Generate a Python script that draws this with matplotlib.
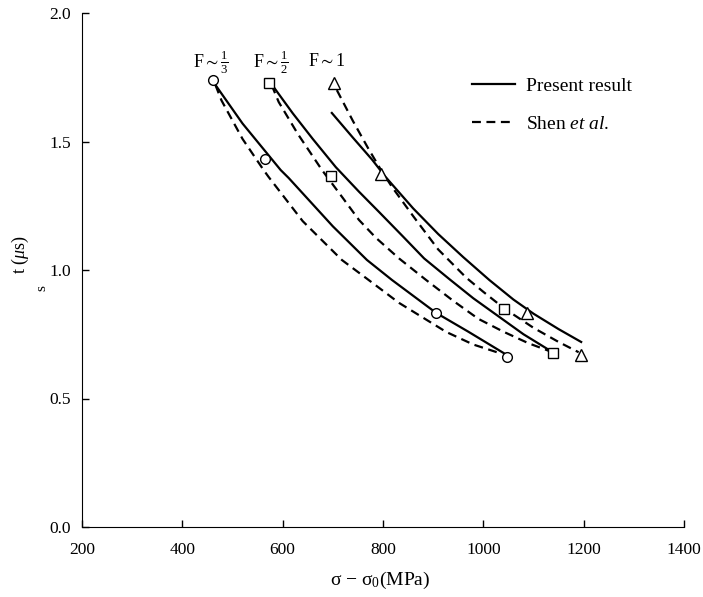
import matplotlib
matplotlib.use("Agg")
import matplotlib.pyplot as plt

plt.rcParams['font.family'] = ['Liberation Serif', 'DejaVu Serif']
plt.rcParams['mathtext.fontset'] = 'custom'
plt.rcParams['mathtext.rm'] = 'Liberation Serif'
plt.rcParams['mathtext.it'] = 'Liberation Serif:italic'
plt.rcParams['mathtext.default'] = 'regular'

# present result (solid) curves
p13_x = [466, 520, 596, 612, 700, 768, 818, 906, 970, 1042]
p13_y = [1.72, 1.57, 1.389, 1.358, 1.17, 1.039, 0.961, 0.833, 0.76, 0.675]
p12_x = [582, 620, 660, 706, 752, 792, 840, 882, 932, 980, 1030, 1080, 1130]
p12_y = [1.712, 1.61, 1.51, 1.40, 1.305, 1.226, 1.13, 1.045, 0.965, 0.89, 0.82, 0.75, 0.69]
p1_x = [698, 740, 778, 806, 860, 910, 960, 1012, 1060, 1100, 1150, 1195]
p1_y = [1.611, 1.515, 1.43, 1.36, 1.24, 1.14, 1.05, 0.961, 0.885, 0.83, 0.77, 0.72]

# Shen et al. (dashed) curves
s13_x = [466, 478, 520, 562, 572, 640, 718, 766, 832, 926, 980, 1035]
s13_y = [1.72, 1.66, 1.51, 1.389, 1.362, 1.19, 1.039, 0.969, 0.872, 0.759, 0.71, 0.675]
s12_x = [578, 592, 630, 678, 720, 752, 786, 832, 886, 940, 990, 1040, 1090, 1138]
s12_y = [1.72, 1.654, 1.53, 1.39, 1.28, 1.195, 1.125, 1.045, 0.961, 0.88, 0.81, 0.76, 0.715, 0.68]
s1_x = [708, 740, 770, 796, 818, 860, 910, 966, 1000, 1042, 1100, 1150, 1190]
s1_y = [1.70, 1.58, 1.475, 1.389, 1.323, 1.21, 1.08, 0.97, 0.915, 0.85, 0.775, 0.72, 0.68]

# symbols
circ_x = [462, 564, 906, 1048]
circ_y = [1.739, 1.432, 0.833, 0.66]
sq_x = [572, 696, 1042, 1138]
sq_y = [1.728, 1.366, 0.848, 0.677]
tri_x = [702, 796, 1088, 1194]
tri_y = [1.728, 1.374, 0.833, 0.669]

labels_F = [r"F$\sim\frac{1}{3}$", r"F$\sim\frac{1}{2}$", r"F$\sim$1"]
labels_F_x = [456, 576, 688]

fig = plt.figure(figsize=(7.03, 5.97), dpi=100)
ax = fig.add_axes([82 / 703, 1 - 527 / 597, 602 / 703, 514 / 597])

dash = (0, (4, 2.5))
ax.plot(p13_x, p13_y, color="black", lw=1.6)
ax.plot(p12_x, p12_y, color="black", lw=1.6)
ax.plot(p1_x, p1_y, color="black", lw=1.6, label="Present result")
ax.plot(s13_x, s13_y, color="black", lw=1.6, linestyle=dash)
ax.plot(s12_x, s12_y, color="black", lw=1.6, linestyle=dash)
ax.plot(s1_x, s1_y, color="black", lw=1.6, linestyle=dash, label=r"Shen $\it{et\ al.}$")

mk = dict(linestyle="none", markerfacecolor="white", markeredgecolor="black",
          markeredgewidth=1.0, zorder=5)
ax.plot(circ_x, circ_y, marker="o", markersize=7, **mk)
ax.plot(sq_x, sq_y, marker="s", markersize=7, **mk)
ax.plot(tri_x, tri_y, marker="^", markersize=8, **mk)

for lab, lx in zip(labels_F, labels_F_x):
    ax.text(lx, 1.81, lab, ha="center", va="center", fontsize=13)

ax.set_xlim(200, 1400)
ax.set_ylim(0, 2.0)
ax.set_xticks([200, 400, 600, 800, 1000, 1200, 1400])
ax.set_yticks([0.0, 0.5, 1.0, 1.5, 2.0])
ax.set_yticklabels(["0.0", "0.5", "1.0", "1.5", "2.0"])
ax.tick_params(direction="in", length=5, width=1, labelsize=12.5, pad=8)
ax.tick_params(axis="x", pad=11)
ax.spines["top"].set_visible(False)
ax.spines["right"].set_visible(False)

ax.legend(loc="upper left", bbox_to_anchor=(472 / 703, 1 - 77 / 597),
          bbox_transform=fig.transFigure, frameon=False, fontsize=14,
          handlelength=2.2, handletextpad=0.6, labelspacing=1.05,
          borderpad=0, borderaxespad=0)

fig.text(20 / 703, 1 - 255 / 597, r"t ($\it{\mu}$s)", rotation=90, ha="center", va="center", fontsize=13)
fig.text(42 / 703, 1 - 288 / 597, "s", rotation=90, ha="center", va="center", fontsize=11)
fig.text(380 / 703, 1 - 580 / 597, r"σ − σ$_0$(MPa)", ha="center", va="center", fontsize=14)

plt.savefig("out.png", dpi=100)
